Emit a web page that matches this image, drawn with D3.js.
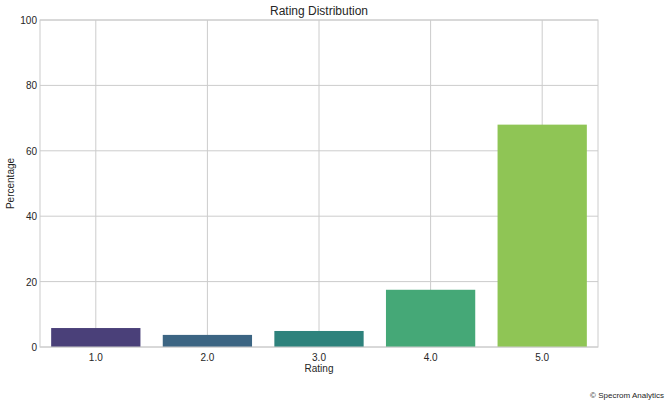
<!DOCTYPE html>
<html><head><meta charset="utf-8">
<script src="https://cdn.jsdelivr.net/npm/d3@7"></script>
<style>body{margin:0;background:#fff}text{font-family:"Liberation Sans",Arial,sans-serif;fill:#262626}</style>
</head><body><svg id="c" width="670" height="405"></svg>
<script>
const categories = ["1.0","2.0","3.0","4.0","5.0"];
const values = [5.8, 3.7, 4.9, 17.5, 68.0];
const colors = ["#4a4079","#3c6583","#2e827c","#45a877","#8fc555"];
const yTicks = [0,20,40,60,80,100];

const svg = d3.select("#c");
const L=40,R=598,T=20,B=347;
const x = d3.scaleBand().domain(categories).range([L,R]).paddingInner(0.2).paddingOuter(0.1);
const y = d3.scaleLinear().domain([0,100]).range([B,T]);
const g = svg.append("g");
g.selectAll(".gy").data(yTicks).join("line").attr("x1",L).attr("x2",R)
 .attr("y1",d=>y(d)).attr("y2",d=>y(d)).attr("stroke","#cccccc");
g.selectAll(".gx").data(categories).join("line").attr("y1",T).attr("y2",B)
 .attr("x1",d=>x(d)+x.bandwidth()/2).attr("x2",d=>x(d)+x.bandwidth()/2).attr("stroke","#cccccc");
g.selectAll("rect.b").data(values).join("rect").attr("x",(d,i)=>x(categories[i]))
 .attr("width",x.bandwidth()).attr("y",d=>y(d)).attr("height",d=>B-y(d)).attr("fill",(d,i)=>colors[i]);
g.append("rect").attr("x",L).attr("y",T).attr("width",R-L).attr("height",B-T).attr("fill","none").attr("stroke","#cccccc");
g.selectAll(".yl").data(yTicks).join("text").attr("x",L-3).attr("y",d=>y(d)+4)
 .attr("text-anchor","end").attr("font-size",10).text(d=>d);
g.selectAll(".xl").data(categories).join("text").attr("x",d=>x(d)+x.bandwidth()/2).attr("y",B+14)
 .attr("text-anchor","middle").attr("font-size",10).text(d=>d);
svg.append("text").attr("x",(L+R)/2).attr("y",15).attr("text-anchor","middle").attr("font-size",12).text("Rating Distribution");
svg.append("text").attr("x",(L+R)/2).attr("y",372).attr("text-anchor","middle").attr("font-size",10).text("Rating");
svg.append("text").attr("transform",`translate(14,${(T+B)/2}) rotate(-90)`).attr("text-anchor","middle").attr("font-size",10).text("Percentage");
svg.append("text").attr("x",664).attr("y",398).attr("text-anchor","end").attr("font-size",8).text("© Specrom Analytics");
</script></body></html>
